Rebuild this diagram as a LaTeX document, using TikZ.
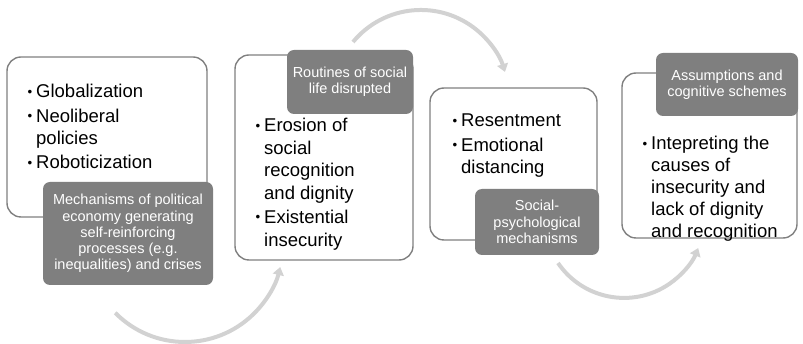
\documentclass[tikz,border=0pt]{standalone}
\usepackage{graphicx}
\usepackage{fontspec}
\setmainfont{Liberation Sans}
\usetikzlibrary{arrows.meta}
\definecolor{boxline}{RGB}{128,128,128}
\definecolor{boxfill}{RGB}{127,127,127}
\definecolor{arrowc}{RGB}{210,210,210}
\newcommand\bodyfont{\fontsize{18.5}{22}\selectfont}
\newcommand\grayfont{\fontsize{14.5}{16.2}\selectfont}
\newcommand\bul{\makebox[9pt][l]{\hspace{0.5pt}\raisebox{1.8pt}{\scalebox{0.72}{\textbullet}}}}
\newcommand\cont{\hspace*{9pt}}
\begin{document}
\begin{tikzpicture}[x=1pt,y=-1pt,
  outerbox/.style={draw=boxline, line width=1.4pt, rounded corners=14pt, fill=white, inner sep=0},
  graybox/.style={fill=boxfill, rounded corners=7pt, inner sep=0, text=white, font=\grayfont, align=center},
  bodytext/.style={anchor=base west, inner sep=0, font=\bodyfont},
  cyclearrow/.style={draw=arrowc, line width=4pt, -{Triangle[width=11pt,length=8pt]}}]
\useasboundingbox (0,0) rectangle (803,344);
% white boxes
\node[outerbox, minimum width=200pt, minimum height=160pt] (b1) at (107,137) {};
\node[outerbox, minimum width=178pt, minimum height=205pt] (b2) at (324,157.5) {};
\node[outerbox, minimum width=167pt, minimum height=152pt] (b3) at (513.5,164) {};
\node[outerbox, minimum width=175pt, minimum height=165pt] (b4) at (709.5,155.5) {};
% body texts
\node[bodytext] (t1) at (27,98) {\begin{tabular}[t]{@{}l@{}}\bul Globalization\\[2.5pt]\bul Neoliberal\\\cont policies\\[2.5pt]\bul Roboticization\end{tabular}};
\node[bodytext] (t2) at (255,132) {\begin{tabular}[t]{@{}l@{}}\bul Erosion of\\[0.4pt]\cont social\\[0.4pt]\cont recognition\\[0.4pt]\cont and dignity\\[2.5pt]\bul Existential\\[0.4pt]\cont insecurity\end{tabular}};
\node[bodytext] (t3) at (452,127) {\begin{tabular}[t]{@{}l@{}}\bul Resentment\\[2.5pt]\bul Emotional\\\cont distancing\end{tabular}};
\node[bodytext] (t4) at (642,150) {\begin{tabular}[t]{@{}l@{}}\bul Intepreting the\\\cont causes of\\\cont insecurity and\\\cont lack of dignity\\\cont and recognition\end{tabular}};
% gray boxes
\node[graybox, minimum width=170pt, minimum height=103pt] (g1) at (128,233.5) {Mechanisms of political\\economy generating\\self-reinforcing\\processes (e.g.\\inequalities) and crises};
\node[graybox, minimum width=126pt, minimum height=64pt] (g2) at (350,82) {Routines of social\\life disrupted};
\node[graybox, minimum width=124pt, minimum height=66pt] (g3) at (537,222) {Social-\\psychological\\mechanisms};
\node[graybox, minimum width=142pt, minimum height=63pt] (g4) at (727,84.5) {Assumptions and\\cognitive schemes};
% cycle arrows
\coordinate (a1) at (115.2,312.8);
\coordinate (a2) at (353,42);
\coordinate (a3) at (558,263);
\draw[cyclearrow] (a1) arc[start angle=135.4, end angle=13.6, radius=98];
\draw[cyclearrow] (a2) arc[start angle=219.5, end angle=342.8, radius=88];
\draw[cyclearrow] (a3) arc[start angle=145.7, end angle=22.1, radius=80];
\end{tikzpicture}
\end{document}
